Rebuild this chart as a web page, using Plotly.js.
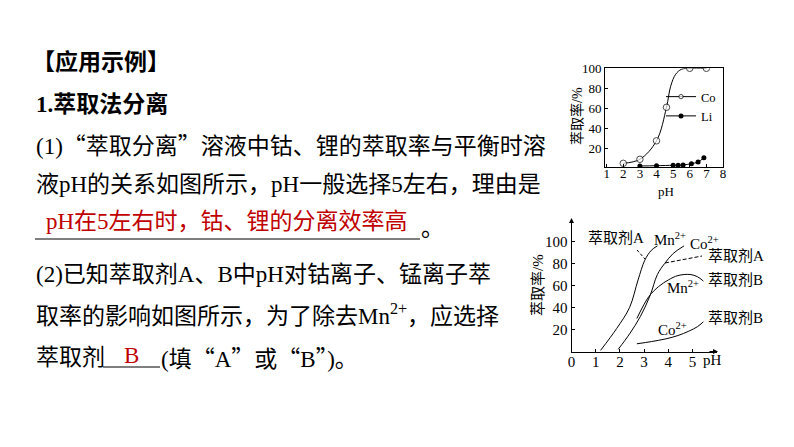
<!DOCTYPE html>
<html><head><meta charset="utf-8">
<script src="https://cdn.plot.ly/plotly-3.0.1.min.js"></script>
<style>html,body{margin:0;padding:0;background:#fff;}#chart{width:794px;height:447px;}</style>
</head><body><div id="chart"></div>
<script>
// ---- Chart 1: Co / Li extraction rate vs pH ----
const coPH = [2, 3, 4, 4.6, 6, 7];
const coRate = [5, 9, 27.5, 61, 100, 100];
const coCurvePH = [4.85, 5.15, 5.5];      // extra points
const coCurveRate = [82, 94, 99];
const liPH = [3, 4, 5, 5.3, 5.6, 6.1, 6.5, 6.85];
const liRate = [2.3, 2.6, 3, 3, 3.3, 4.6, 6.3, 10.6];
const chart1XTicks = [1, 2, 3, 4, 5, 6, 7, 8];
const chart1YTicks = [20, 40, 60, 80, 100];

// ---- Chart 2: extractants A / B, Mn2+ and Co2+ ----
const aMnPH = [1.2, 1.87, 2.4, 2.75, 3.03, 3.3, 3.55];
const aMnRate = [1, 21, 40, 65, 83, 92, 96];
const aCoPH = [1.93, 2.4, 2.85, 3.25, 3.55, 3.85, 4.2, 4.65];
const aCoRate = [2, 16, 32, 51, 70, 80, 89, 96];
const bMnPH = [2.7, 3.2, 3.6, 4.0, 4.4, 4.9, 5.2, 5.45];
const bMnRate = [30, 50, 59, 65, 69, 70, 68, 64];
const bCoPH = [2.7, 3.3, 3.9, 4.4, 4.85, 5.2, 5.45];
const bCoRate = [7, 9, 11.5, 14.5, 18.5, 22.5, 27];
const chart2XTicks = [0, 1, 2, 3, 4, 5];
const chart2YTicks = [20, 40, 60, 80, 100];

const FONT = 'Liberation Serif, Noto Sans CJK SC';
const W = 794, H = 447;
const P = x => x / W, Q = y => 1 - y / H;
const RED = '#c00000';
const q1 = '<span style="font-family:Noto Sans CJK SC">“</span>';
const q2 = '<span style="font-family:Noto Sans CJK SC">”</span>';

// merge Co measured points with curve points
const coAll = coPH.map((p, i) => ({p: p, r: coRate[i], m: true}))
  .concat(coCurvePH.map((p, i) => ({p: p, r: coCurveRate[i], m: false})))
  .sort((a, b) => a.p - b.p);

const curve = (x, y) => ({x: x, y: y, xaxis: 'x2', yaxis: 'y2', mode: 'lines', showlegend: false,
  line: {color: '#000', width: 1, shape: 'spline', smoothing: 1}, hoverinfo: 'skip'});

const data = [
  {name: 'Co', x: coAll.map(d => d.p), y: coAll.map(d => d.r), mode: 'lines+markers',
   line: {color: '#000', width: 1, shape: 'spline', smoothing: 1},
   marker: {symbol: 'circle', color: '#fff', size: coAll.map(d => d.m ? 6.5 : 0), line: {color: '#000', width: 1}}},
  {name: 'Li', x: liPH, y: liRate, mode: 'lines+markers',
   line: {color: '#000', width: 1, shape: 'spline', smoothing: 1},
   marker: {symbol: 'circle', color: '#000', size: 5}},
  curve(aMnPH, aMnRate), curve(aCoPH, aCoRate), curve(bMnPH, bMnRate), curve(bCoPH, bCoRate)
];

const f = (size, color) => ({family: FONT, size: size, color: color || '#000'});
function txt(x, y, text, o) {
  return Object.assign({xref: 'paper', yref: 'paper', x: P(x), y: Q(y), text: text, showarrow: false,
    xanchor: 'left', yanchor: 'middle', borderpad: 0, font: f(23)}, o || {});
}

const annotations = [
  txt(31, 62, '<b>【应用示例】</b>'),
  txt(35, 104, '<b>1.萃取法分离</b>'),
  txt(35, 144, '(1)' + q1 + '萃取分离' + q2 + '溶液中钴、锂的萃取率与平衡时溶'),
  txt(35, 184, '液pH的关系如图所示，pH一般选择5左右，理由是'),
  txt(45, 222, 'pH在5左右时，钴、锂的分离效率高', {font: f(23, RED)}),
  txt(420, 228, '。'),
  txt(35, 274, '(2)已知萃取剂A、B中pH对钴离子、锰离子萃'),
  txt(35, 314, '取率的影响如图所示，为了除去Mn<sup>2+</sup>，应选择'),
  txt(35, 357, '萃取剂'),
  txt(131, 355, 'B', {xanchor: 'center', font: f(23, RED)}),
  txt(160, 357, '(填' + q1 + 'A' + q2 + '或' + q1 + 'B' + q2 + ')。'),
  // chart 1 titles
  txt(577, 116, '萃取率/%', {xanchor: 'center', textangle: -90, font: f(14)}),
  txt(666, 191, 'pH', {xanchor: 'center', font: f(13)}),
  // chart 2 titles and labels
  txt(538, 285, '萃取率/%', {xanchor: 'center', textangle: -90, font: f(15)}),
  txt(712, 360, 'pH', {xanchor: 'center', font: f(15)}),
  txt(616, 238, '萃取剂A', {xanchor: 'center', font: f(15)}),
  txt(670, 239, 'Mn<sup>2+</sup>', {xanchor: 'center', font: f(15)}),
  txt(704, 243, 'Co<sup>2+</sup>', {xanchor: 'center', font: f(15)}),
  txt(707, 256, '萃取剂A', {font: f(15)}),
  txt(707, 280, '萃取剂B', {font: f(15)}),
  txt(683, 287, 'Mn<sup>2+</sup>', {xanchor: 'center', font: f(15)}),
  txt(672, 329, 'Co<sup>2+</sup>', {xanchor: 'center', font: f(15)}),
  txt(707, 318, '萃取剂B', {font: f(15)}),
  // axis arrows for chart 2
  {xref: 'paper', yref: 'paper', x: P(718), y: Q(351.5), ax: -10, ay: 0, text: '', showarrow: true,
   arrowhead: 2, arrowsize: 1, arrowwidth: 1, arrowcolor: '#000'},
  {xref: 'paper', yref: 'paper', x: P(571.5), y: Q(218), ax: 0, ay: 10, text: '', showarrow: true,
   arrowhead: 2, arrowsize: 1, arrowwidth: 1, arrowcolor: '#000'}
];

const shapes = [
  {type: 'line', xref: 'paper', yref: 'paper', x0: P(35), x1: P(420), y0: Q(239), y1: Q(239), line: {color: '#000', width: 1}},
  {type: 'line', xref: 'paper', yref: 'paper', x0: P(103), x1: P(160), y0: Q(367), y1: Q(367), line: {color: '#000', width: 1}},
  {type: 'line', xref: 'paper', yref: 'paper', x0: P(637), x1: P(645), y0: Q(250), y1: Q(259), line: {color: '#000', width: 1, dash: '3px,2px'}},
  {type: 'line', xref: 'paper', yref: 'paper', x0: P(665), x1: P(702), y0: Q(263), y1: Q(256), line: {color: '#000', width: 1, dash: '4px,2px'}}
];

const axisBase = {showgrid: false, zeroline: false, showline: true, linecolor: '#000', linewidth: 1,
  ticks: 'inside', ticklen: 3, tickcolor: '#000', tickwidth: 1, fixedrange: true};

const layout = {
  width: W, height: H, margin: {l: 0, r: 0, t: 0, b: 0},
  paper_bgcolor: '#fff', plot_bgcolor: 'rgba(0,0,0,0)',
  font: f(13),
  showlegend: true,
  legend: {x: P(661), y: Q(82), xanchor: 'left', yanchor: 'top', font: f(12.5),
    bgcolor: 'rgba(0,0,0,0)', itemwidth: 30, tracegroupgap: 0},
  xaxis: Object.assign({}, axisBase, {domain: [P(605), P(723)], range: [0.9, 8], anchor: 'y',
    mirror: true, tickvals: chart1XTicks, tickfont: f(13), ticklabelstandoff: -6}),
  yaxis: Object.assign({}, axisBase, {domain: [Q(167.3), Q(68.3)], range: [1, 100], anchor: 'x',
    mirror: true, tickvals: chart1YTicks, tickfont: f(13)}),
  xaxis2: Object.assign({}, axisBase, {domain: [P(571.5), P(716.7)], range: [0, 6], anchor: 'y2',
    tickvals: chart2XTicks, tickfont: f(15), ticklabelstandoff: -4}),
  yaxis2: Object.assign({}, axisBase, {domain: [Q(351.5), Q(220)], range: [0, 119.5], anchor: 'x2',
    tickvals: chart2YTicks, tickfont: f(15)}),
  annotations: annotations,
  shapes: shapes,
  hovermode: false
};

Plotly.newPlot('chart', data, layout, {staticPlot: true, displayModeBar: false});
</script>
</body></html>
